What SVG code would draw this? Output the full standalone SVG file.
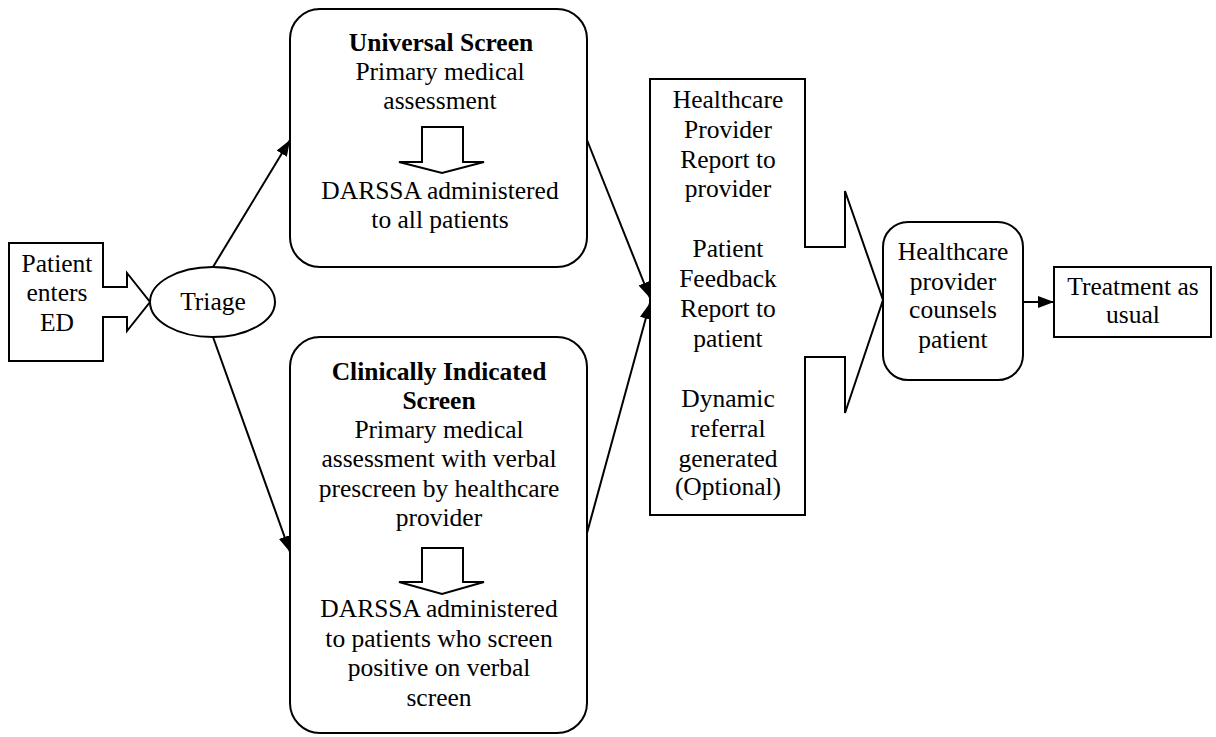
<svg xmlns="http://www.w3.org/2000/svg" width="1216" height="737" viewBox="0 0 1216 737">
<style>
.s{fill:#fff;stroke:#000;stroke-width:2}
.t{font-size:25.5px;fill:#000;text-anchor:middle}
.b{font-weight:bold}
.c{stroke:#000;stroke-width:2;fill:none}
</style>
<defs>
<marker id="ah" viewBox="0 0 16 12" refX="16" refY="6" markerWidth="16" markerHeight="12" markerUnits="userSpaceOnUse" orient="auto">
<path d="M0,0 L16,6 L0,12 z" fill="#000"/>
</marker>
</defs>
<rect width="1216" height="737" fill="#fff"/>
<g id="connectors">
<line class="c" x1="213" y1="267" x2="290" y2="140" marker-end="url(#ah)"/>
<line class="c" x1="213" y1="337" x2="290" y2="552" marker-end="url(#ah)"/>
<line class="c" x1="587" y1="140" x2="650" y2="298" marker-end="url(#ah)"/>
<line class="c" x1="587" y1="533" x2="650" y2="303" marker-end="url(#ah)"/>
<line class="c" x1="1023" y1="302" x2="1054" y2="302" marker-end="url(#ah)"/>
</g>
<g font-family="Liberation Serif, Times New Roman, serif">
<g id="patient">
<polygon class="s" points="9,243 103,243 103,287 127,287 127,273 150,302 127,331 127,317 103,317 103,361 9,361"/>
<text class="t" x="57" y="272">Patient</text>
<text class="t" x="57" y="301">enters</text>
<text class="t" x="57" y="331">ED</text>
</g>
<g id="triage">
<ellipse class="s" cx="212.5" cy="302" rx="62.5" ry="35"/>
<text class="t" x="213" y="310">Triage</text>
</g>
<g id="universal">
<rect class="s" x="290" y="9" width="297" height="258" rx="30" ry="30"/>
<text class="t b" x="441" y="51">Universal Screen</text>
<text class="t" x="440" y="80">Primary medical</text>
<text class="t" x="440" y="109">assessment</text>
<polygon class="s" points="422,127 463,127 463,162 484,162 442,173 399,162 422,162"/>
<text class="t" x="440" y="199">DARSSA administered</text>
<text class="t" x="440" y="228">to all patients</text>
</g>
<g id="clinical">
<rect class="s" x="290" y="337" width="297" height="396" rx="30" ry="30"/>
<text class="t b" x="439" y="380">Clinically Indicated</text>
<text class="t b" x="439" y="409">Screen</text>
<text class="t" x="439" y="438">Primary medical</text>
<text class="t" x="439" y="467">assessment with verbal</text>
<text class="t" x="439" y="497">prescreen by healthcare</text>
<text class="t" x="439" y="526">provider</text>
<polygon class="s" points="422,548 463,548 463,582 484,582 442,594 399,582 422,582"/>
<text class="t" x="439" y="617">DARSSA administered</text>
<text class="t" x="439" y="647">to patients who screen</text>
<text class="t" x="439" y="676">positive on verbal</text>
<text class="t" x="439" y="706">screen</text>
</g>
<g id="reports">
<polygon class="s" points="650,79 805,79 805,247 845,247 845,191 883,300 845,413 845,357 805,357 805,515 650,515"/>
<text class="t" x="728" y="108">Healthcare</text>
<text class="t" x="728" y="138">Provider</text>
<text class="t" x="728" y="168">Report to</text>
<text class="t" x="728" y="197">provider</text>
<text class="t" x="728" y="257">Patient</text>
<text class="t" x="728" y="287">Feedback</text>
<text class="t" x="728" y="317">Report to</text>
<text class="t" x="728" y="347">patient</text>
<text class="t" x="728" y="407">Dynamic</text>
<text class="t" x="728" y="437">referral</text>
<text class="t" x="728" y="467">generated</text>
<text class="t" x="728" y="495">(Optional)</text>
</g>
<g id="counsels">
<rect class="s" x="883" y="222" width="140" height="158" rx="25" ry="25"/>
<text class="t" x="953" y="260">Healthcare</text>
<text class="t" x="953" y="290">provider</text>
<text class="t" x="953" y="318">counsels</text>
<text class="t" x="953" y="348">patient</text>
</g>
<g id="treatment">
<rect class="s" x="1054" y="267" width="157" height="70"/>
<text class="t" x="1133" y="295">Treatment as</text>
<text class="t" x="1133" y="323">usual</text>
</g>
</g>
</svg>
